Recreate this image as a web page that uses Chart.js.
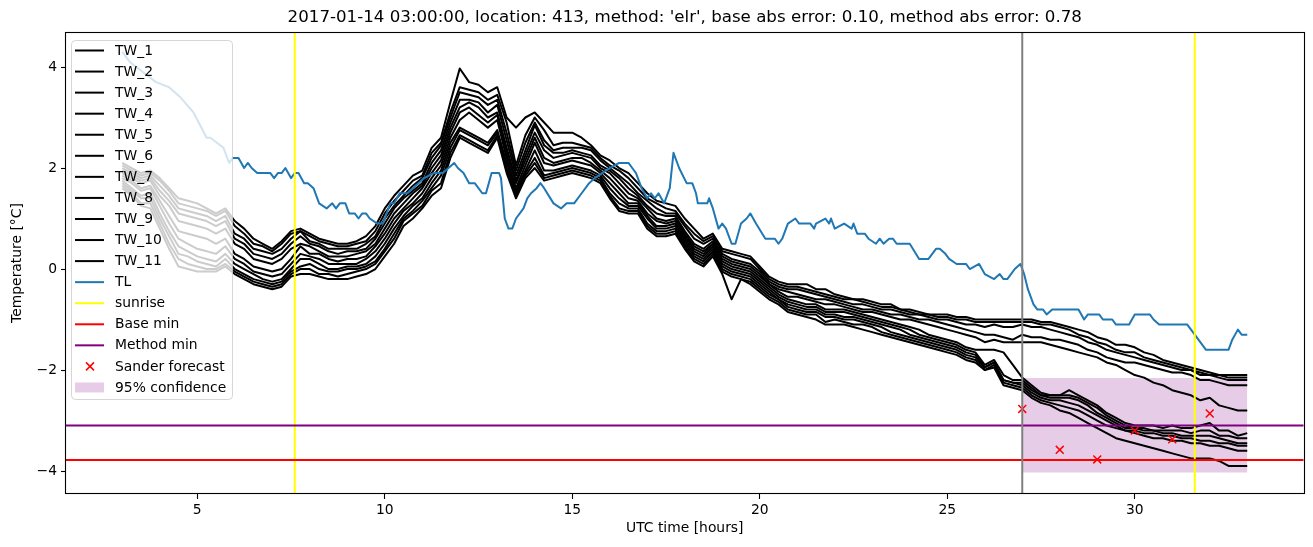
<!DOCTYPE html>
<html>
<head>
<meta charset="utf-8">
<script src="https://cdn.jsdelivr.net/npm/chart.js"></script>
<style>
html, body { margin: 0; padding: 0; background: #ffffff; }
canvas { display: block; }
</style>
</head>
<body>
<canvas id="chart" width="1313" height="547"></canvas>
<script>
// ---------------- DATA ----------------
const chartTitle = "2017-01-14 03:00:00, location: 413, method: 'elr', base abs error: 0.10, method abs error: 0.78";
const xAxisTitle = "UTC time [hours]";
const yAxisTitle = "Temperature [°C]";

const xTicks = [5, 10, 15, 20, 25, 30];
const yTicks = [-4, -2, 0, 2, 4];
const xMin = 1.5, xMax = 34.5;
const yMin = -4.455, yMax = 4.693;

const twLabels = ["TW_1", "TW_2", "TW_3", "TW_4", "TW_5", "TW_6", "TW_7", "TW_8", "TW_9", "TW_10", "TW_11"];

const twHours = [
  3, 3.25, 3.5, 3.75, 4, 4.25, 4.5, 4.75, 5, 5.25, 5.5, 5.75,
  6, 6.25, 6.5, 6.75, 7, 7.25, 7.5, 7.75, 8, 8.25, 8.5, 8.75,
  9, 9.25, 9.5, 9.75, 10, 10.25, 10.5, 10.75, 11, 11.25, 11.5, 11.75,
  12, 12.25, 12.5, 12.75, 13, 13.25, 13.5, 13.75, 14, 14.25, 14.5, 14.75,
  15, 15.25, 15.5, 15.75, 16, 16.25, 16.5, 16.75, 17, 17.25, 17.5, 17.75,
  18, 18.25, 18.5, 18.75, 19, 19.25, 19.5, 19.75, 20, 20.25, 20.5, 20.75,
  21, 21.25, 21.5, 21.75, 22, 22.25, 22.5, 22.75, 23, 23.25, 23.5, 23.75,
  24, 24.25, 24.5, 24.75, 25, 25.25, 25.5, 25.75, 26, 26.25, 26.5, 26.75,
  27, 27.25, 27.5, 27.75, 28, 28.25, 28.5, 28.75, 29, 29.25, 29.5, 29.75,
  30, 30.25, 30.5, 30.75, 31, 31.25, 31.5, 31.75, 32, 32.25, 32.5, 32.75,
  33
];

const tw1 = [
  2.1, 2.0, 1.9, 1.95,  1.8, 1.6, 1.4, 1.35,  1.3, 1.2, 1.1, 1.2,
  0.95, 0.8, 0.6, 0.5,  0.4, 0.55, 0.75, 0.8,  0.7, 0.6, 0.55, 0.5,
  0.5, 0.55, 0.65, 0.85,  1.2, 1.45, 1.65, 1.85,  1.95, 2.4, 2.6, 3.3,
  3.97, 3.7, 3.65, 3.5,  3.6, 3.0, 2.8, 3.0,  3.1, 2.9, 2.7, 2.7,
  2.7, 2.6, 2.45, 2.25,  2.15, 2.0, 1.9, 1.7,  1.5, 1.35, 1.3, 1.25,
  1.0, 0.8, 0.6, 0.7,  0.4, 0.35, 0.3, 0.25,  0.05, -0.15, -0.25, -0.3,
  -0.3, -0.3, -0.4, -0.4,  -0.5, -0.55, -0.6, -0.6,  -0.65, -0.7, -0.7, -0.8,
  -0.8, -0.85, -0.9, -0.9,  -0.9, -0.95, -0.95, -1.0,  -1.0, -1.0, -1.0, -1.0,
  -1.0, -1.0, -1.05, -1.05,  -1.1, -1.15, -1.2, -1.25,  -1.35, -1.4, -1.5, -1.5,
  -1.55, -1.65, -1.7, -1.8,  -1.85, -1.9, -1.95, -2.0,  -2.05, -2.1, -2.1, -2.1,
  -2.1
];
const tw2 = [
  2.05, 1.95, 1.85, 1.9,  1.75, 1.55, 1.3, 1.25,  1.2, 1.15, 1.05, 1.15,
  0.85, 0.7, 0.5, 0.45,  0.35, 0.5, 0.7, 0.75,  0.65, 0.55, 0.5, 0.45,
  0.45, 0.5, 0.55, 0.75,  1.1, 1.35, 1.55, 1.75,  1.85, 2.3, 2.5, 3.1,
  3.6, 3.55, 3.5, 3.35,  3.45, 2.9, 2.05, 2.65,  3.0, 2.75, 2.45, 2.5,
  2.5, 2.45, 2.4, 2.2,  2.05, 1.95, 1.8, 1.6,  1.4, 1.3, 1.2, 1.15,
  0.9, 0.7, 0.55, 0.65,  0.35, 0.3, 0.25, 0.2,  0.0, -0.2, -0.3, -0.35,
  -0.35, -0.4, -0.45, -0.5,  -0.55, -0.6, -0.6, -0.65,  -0.7, -0.75, -0.75, -0.8,
  -0.85, -0.9, -0.9, -0.95,  -0.95, -1.0, -1.0, -1.05,  -1.05, -1.05, -1.05, -1.05,
  -1.05, -1.05, -1.1, -1.1,  -1.15, -1.2, -1.3, -1.35,  -1.45, -1.5, -1.6, -1.65,
  -1.65, -1.75, -1.8, -1.85,  -1.9, -1.95, -2.0, -2.05,  -2.1, -2.1, -2.15, -2.15,
  -2.15
];
const tw3 = [
  2.0, 1.9, 1.8, 1.85,  1.65, 1.45, 1.2, 1.15,  1.1, 1.05, 0.95, 1.05,
  0.7, 0.6, 0.4, 0.35,  0.3, 0.4, 0.6, 0.75,  0.55, 0.5, 0.4, 0.4,
  0.4, 0.4, 0.5, 0.65,  1.0, 1.25, 1.45, 1.65,  1.8, 2.2, 2.45, 3.0,
  3.5, 3.45, 3.4, 3.25,  3.35, 2.7, 1.95, 2.5,  2.9, 2.55, 2.35, 2.4,
  2.4, 2.4, 2.35, 2.15,  2.0, 1.85, 1.7, 1.5,  1.35, 1.2, 1.1, 1.1,
  0.85, 0.6, 0.5, 0.6,  0.3, 0.2, 0.15, 0.1,  -0.05, -0.25, -0.35, -0.4,
  -0.4, -0.45, -0.5, -0.55,  -0.6, -0.65, -0.7, -0.7,  -0.75, -0.8, -0.8, -0.85,
  -0.9, -0.9, -0.95, -1.0,  -1.0, -1.05, -1.1, -1.1,  -1.15, -1.1, -1.15, -1.15,
  -1.1, -1.15, -1.15, -1.2,  -1.25, -1.3, -1.35, -1.45,  -1.5, -1.6, -1.65, -1.7,
  -1.75, -1.8, -1.85, -1.9,  -1.95, -2.0, -2.0, -2.1,  -2.1, -2.15, -2.2, -2.2,
  -2.2
];
const tw4 = [
  1.95, 1.85, 1.75, 1.8,  1.55, 1.35, 1.1, 1.05,  1.0, 0.95, 0.85, 0.95,
  0.6, 0.5, 0.3, 0.25,  0.2, 0.3, 0.5, 0.65,  0.5, 0.45, 0.35, 0.3,
  0.35, 0.35, 0.4, 0.6,  0.9, 1.2, 1.4, 1.55,  1.7, 2.1, 2.35, 2.9,
  3.35, 3.35, 3.3, 3.1,  3.25, 2.55, 1.85, 2.35,  2.85, 2.45, 2.3, 2.3,
  2.35, 2.3, 2.25, 2.05,  1.95, 1.8, 1.6, 1.45,  1.25, 1.1, 1.05, 1.05,
  0.75, 0.5, 0.4, 0.55,  0.25, 0.15, 0.1, 0.05,  -0.1, -0.3, -0.4, -0.45,
  -0.5, -0.55, -0.6, -0.6,  -0.65, -0.7, -0.75, -0.8,  -0.8, -0.85, -0.9, -0.9,
  -0.95, -1.0, -1.0, -1.05,  -1.1, -1.15, -1.2, -1.25,  -1.3, -1.3, -1.35, -1.4,
  -1.3, -1.35, -1.35, -1.4,  -1.4, -1.45, -1.5, -1.6,  -1.65, -1.75, -1.8, -1.85,
  -1.85, -1.9, -1.95, -2.0,  -2.05, -2.05, -2.1, -2.2,  -2.2, -2.25, -2.3, -2.3,
  -2.3
];
const tw5 = [
  1.9, 1.8, 1.7, 1.75,  1.45, 1.25, 0.95, 0.9,  0.85, 0.8, 0.7, 0.8,
  0.5, 0.4, 0.2, 0.15,  0.1, 0.2, 0.4, 0.5,  0.45, 0.35, 0.25, 0.25,
  0.25, 0.3, 0.35, 0.5,  0.8, 1.1, 1.3, 1.5,  1.65, 2.0, 2.25, 2.8,
  3.2, 3.3, 3.2, 3.0,  3.1, 2.4, 1.75, 2.25,  2.7, 2.35, 2.2, 2.25,
  2.3, 2.25, 2.2, 2.0,  1.9, 1.7, 1.5, 1.4,  1.2, 1.0, 0.95, 1.0,
  0.7, 0.45, 0.35, 0.5,  0.2, 0.1, 0.05, 0.0,  -0.15, -0.3, -0.45, -0.55,
  -0.55, -0.6, -0.65, -0.7,  -0.7, -0.75, -0.8, -0.85,  -0.85, -0.9, -0.95, -1.0,
  -1.0, -1.05, -1.1, -1.15,  -1.2, -1.25, -1.3, -1.35,  -1.45, -1.4, -1.45, -1.45,
  -1.45, -1.45, -1.45, -1.5,  -1.55, -1.6, -1.65, -1.7,  -1.75, -1.85, -1.9, -2.0,
  -2.1, -2.15, -2.25, -2.3,  -2.4, -2.45, -2.5, -2.6,  -2.55, -2.7, -2.75, -2.8,
  -2.8
];
const tw6 = [
  1.85, 1.75, 1.6, 1.65,  1.35, 1.05, 0.75, 0.7,  0.65, 0.6, 0.5, 0.6,
  0.3, 0.2, 0.05, 0.0,  -0.05, 0.0, 0.2, 0.45,  0.3, 0.3, 0.2, 0.15,
  0.2, 0.2, 0.25, 0.45,  0.7, 1.0, 1.2, 1.4,  1.6, 1.9, 2.15, 2.7,
  3.1, 3.2, 3.05, 2.9,  3.05, 2.3, 1.7, 2.15,  2.6, 2.2, 2.1, 2.15,
  2.2, 2.2, 2.1, 1.95,  1.8, 1.6, 1.4, 1.35,  1.1, 0.95, 0.9, 0.95,
  0.65, 0.4, 0.3, 0.5,  0.15, 0.05, 0.0, -0.05,  -0.2, -0.35, -0.5, -0.6,
  -0.65, -0.7, -0.7, -0.8,  -0.8, -0.8, -0.85, -0.9,  -0.95, -1.0, -1.05, -1.1,
  -1.15, -1.2, -1.3, -1.35,  -1.4, -1.45, -1.55, -1.6,  -1.6, -1.6, -1.65, -1.9,
  -2.15, -2.3, -2.45, -2.5,  -2.5, -2.4, -2.5, -2.6,  -2.7, -2.85, -2.95, -3.05,
  -3.1, -3.1, -3.1, -3.15,  -3.1, -3.15, -3.15, -3.1,  -3.05, -3.2, -3.2, -3.3,
  -3.25
];
const tw7 = [
  1.8, 1.7, 1.55, 1.6,  1.25, 0.9, 0.6, 0.5,  0.4, 0.35, 0.3, 0.45,
  0.2, 0.1, -0.05, -0.1,  -0.15, -0.1, 0.1, 0.3,  0.25, 0.2, 0.1, 0.1,
  0.1, 0.1, 0.2, 0.35,  0.6, 0.9, 1.15, 1.3,  1.5, 1.8, 2.05, 2.6,
  2.95, 3.1, 2.95, 2.8,  2.95, 2.2, 1.6, 2.05,  2.5, 2.1, 2.05, 2.1,
  2.15, 2.1, 2.05, 1.9,  1.7, 1.5, 1.3, 1.3,  1.05, 0.85, 0.85, 0.9,
  0.6, 0.35, 0.25, 0.45,  0.1, 0.0, -0.05, -0.1,  -0.25, -0.4, -0.55, -0.65,
  -0.7, -0.75, -0.75, -0.85,  -0.85, -0.85, -0.9, -0.95,  -1.0, -1.05, -1.1, -1.15,
  -1.2, -1.3, -1.35, -1.4,  -1.45, -1.5, -1.6, -1.65,  -1.9, -1.8, -2.1, -2.2,
  -2.2, -2.35, -2.5, -2.5,  -2.5, -2.5, -2.55, -2.65,  -2.75, -2.9, -3.0, -3.1,
  -3.15, -3.15, -3.2, -3.2,  -3.2, -3.2, -3.25, -3.2,  -3.2, -3.3, -3.3, -3.35,
  -3.35
];
const tw8 = [
  1.75, 1.6, 1.45, 1.5,  1.1, 0.75, 0.45, 0.35,  0.25, 0.2, 0.15, 0.3,
  0.1, 0.0, -0.1, -0.2,  -0.25, -0.2, 0.0, 0.2,  0.2, 0.1, 0.0, 0.0,
  0.05, 0.05, 0.1, 0.25,  0.5, 0.8, 1.05, 1.25,  1.4, 1.7, 1.95, 2.5,
  2.8, 2.7, 2.6, 2.5,  2.75, 2.1, 1.55, 1.95,  2.35, 1.95, 1.95, 2.0,
  2.05, 2.0, 1.95, 1.85,  1.6, 1.4, 1.25, 1.25,  1.0, 0.8, 0.8, 0.85,
  0.55, 0.3, 0.2, 0.4,  0.05, -0.05, -0.1, -0.15,  -0.3, -0.45, -0.6, -0.7,
  -0.75, -0.8, -0.8, -0.9,  -0.9, -0.95, -0.95, -1.0,  -1.05, -1.1, -1.15, -1.2,
  -1.3, -1.35, -1.4, -1.45,  -1.5, -1.55, -1.65, -1.7,  -1.95, -1.85, -2.2, -2.25,
  -2.25, -2.4, -2.5, -2.55,  -2.55, -2.55, -2.6, -2.7,  -2.85, -2.95, -3.05, -3.15,
  -3.15, -3.2, -3.2, -3.25,  -3.25, -3.3, -3.3, -3.3,  -3.3, -3.35, -3.4, -3.45,
  -3.45
];
const tw9 = [
  1.7, 1.55, 1.4, 1.4,  1.0, 0.65, 0.3, 0.25,  0.15, 0.1, 0.05, 0.2,
  0.0, -0.1, -0.2, -0.25,  -0.3, -0.25, -0.05, 0.05,  0.1, 0.0, -0.05, -0.05,
  0.0, 0.0, 0.05, 0.15,  0.4, 0.7, 1.0, 1.15,  1.35, 1.6, 1.85, 2.4,
  2.75, 2.65, 2.55, 2.45,  2.7, 2.0, 1.5, 1.9,  2.2, 1.85, 1.9, 1.95,
  2.0, 1.95, 1.9, 1.8,  1.5, 1.3, 1.2, 1.2,  0.9, 0.75, 0.75, 0.8,
  0.5, 0.25, 0.15, 0.35,  0.0, -0.1, -0.15, -0.2,  -0.35, -0.5, -0.6, -0.75,
  -0.8, -0.85, -0.85, -0.95,  -0.95, -1.0, -1.0, -1.05,  -1.1, -1.15, -1.25, -1.3,
  -1.35, -1.4, -1.45, -1.5,  -1.55, -1.6, -1.7, -1.75,  -1.95, -1.85, -2.2, -2.25,
  -2.3, -2.45, -2.55, -2.6,  -2.6, -2.65, -2.7, -2.8,  -2.9, -3.0, -3.1, -3.2,
  -3.2, -3.25, -3.25, -3.3,  -3.3, -3.35, -3.35, -3.4,  -3.4, -3.45, -3.45, -3.5,
  -3.5
];
const tw10 = [
  1.65, 1.5, 1.3, 1.3,  0.9, 0.5, 0.2, 0.1,  0.05, 0.0, 0.0, 0.1,
  -0.05, -0.15, -0.25, -0.3,  -0.35, -0.3, -0.1, 0.0,  0.0, -0.1, -0.1, -0.15,
  -0.1, -0.05, 0.0, 0.1,  0.35, 0.6, 0.95, 1.1,  1.25, 1.55, 1.7, 2.3,
  2.65, 2.55, 2.45, 2.35,  2.65, 1.95, 1.45, 1.85,  2.1, 1.8, 1.85, 1.9,
  1.95, 1.9, 1.85, 1.75,  1.45, 1.2, 1.15, 1.15,  0.85, 0.7, 0.7, 0.75,
  0.45, 0.2, 0.1, 0.3,  -0.05, -0.15, -0.2, -0.25,  -0.4, -0.55, -0.65, -0.8,
  -0.85, -0.9, -0.9, -1.05,  -1.0, -1.05, -1.1, -1.1,  -1.15, -1.25, -1.3, -1.35,
  -1.4, -1.45, -1.5, -1.55,  -1.6, -1.65, -1.75, -1.8,  -2.0, -1.9, -2.25, -2.3,
  -2.35, -2.5, -2.6, -2.65,  -2.7, -2.75, -2.8, -2.9,  -3.0, -3.1, -3.15, -3.2,
  -3.25, -3.3, -3.35, -3.35,  -3.4, -3.4, -3.45, -3.45,  -3.5, -3.5, -3.55, -3.6,
  -3.6
];
const tw11 = [
  1.6, 1.45, 1.25, 1.2,  0.8, 0.4, 0.05, 0.0,  -0.05, -0.05, -0.05, 0.05,
  -0.1, -0.2, -0.3, -0.35,  -0.4, -0.35, -0.15, -0.1,  -0.1, -0.15, -0.2, -0.2,
  -0.2, -0.15, -0.1, 0.0,  0.25, 0.5, 0.85, 1.0,  1.2, 1.45, 1.6, 2.2,
  2.6, 2.5, 2.4, 2.3,  2.6, 1.9, 1.4, 1.8,  2.0, 1.75, 1.8, 1.85,
  1.9, 1.85, 1.8, 1.7,  1.4, 1.15, 1.1, 1.1,  0.8, 0.65, 0.65, 0.7,
  0.4, 0.15, 0.05, 0.25,  -0.1, -0.6, -0.2, -0.3,  -0.45, -0.6, -0.7, -0.85,
  -0.9, -0.95, -1.0, -1.1,  -1.1, -1.1, -1.15, -1.2,  -1.25, -1.3, -1.35, -1.4,
  -1.45, -1.5, -1.55, -1.6,  -1.65, -1.7, -1.8, -1.85,  -2.0, -1.95, -2.3, -2.35,
  -2.4, -2.55, -2.65, -2.7,  -2.8, -2.85, -2.95, -3.05,  -3.15, -3.25, -3.35, -3.4,
  -3.45, -3.5, -3.55, -3.6,  -3.65, -3.7, -3.75, -3.75,  -3.75, -3.8, -3.9, -3.9,
  -3.9
];

const tlHours = [
  3.0, 3.2, 3.55, 3.9, 4.25, 4.55, 4.9, 5.25, 5.35, 5.7,
  5.85, 5.95, 6.1, 6.25, 6.35, 6.45, 6.6, 6.95, 7.05, 7.15,
  7.25, 7.35, 7.5, 7.6, 7.7, 7.85, 7.95, 8.1, 8.25, 8.45,
  8.6, 8.7, 8.8, 8.95, 9.05, 9.2, 9.3, 9.4, 9.5, 9.6,
  9.8, 9.95, 10.0, 10.15, 10.25, 10.4, 10.6, 10.75, 10.9, 11.05,
  11.3, 11.55, 11.85, 11.95, 12.1, 12.25, 12.4, 12.6, 12.7, 12.85,
  13.05, 13.1, 13.2, 13.3, 13.4, 13.5, 13.7, 13.8, 13.9, 14.05,
  14.15, 14.25, 14.5, 14.7, 14.85, 15.05, 15.25, 15.45, 15.6, 15.8,
  16.0, 16.25, 16.5, 16.6, 16.7, 16.85, 17.0, 17.1, 17.2, 17.3,
  17.45, 17.6, 17.7, 17.85, 18.05, 18.2, 18.3, 18.35, 18.6, 18.65,
  18.75, 18.9, 19.0, 19.1, 19.25, 19.35, 19.5, 19.65, 19.75, 19.9,
  20.15, 20.4, 20.5, 20.6, 20.75, 20.95, 21.05, 21.35, 21.45, 21.5,
  21.75, 21.85, 21.9, 22.0, 22.25, 22.45, 22.5, 22.6, 22.8, 22.9,
  23.1, 23.2, 23.3, 23.45, 23.55, 23.65, 24.0, 24.25, 24.5, 24.6,
  24.7, 24.8, 24.95, 25.05, 25.25, 25.5, 25.6, 25.85, 26.0, 26.25,
  26.4, 26.5, 26.6, 26.7, 26.8, 26.95, 27.05, 27.15, 27.3, 27.4,
  27.55, 27.65, 27.8, 28.5, 28.65, 28.75, 29.05, 29.15, 29.4, 29.5,
  29.85, 30.0, 30.4, 30.5, 30.65, 31.4, 31.6, 31.9, 32.5, 32.6,
  32.75, 32.85, 33.0
];
const tlValues = [
  4.3, 4.1, 3.9, 3.7, 3.6, 3.4, 3.1, 2.6, 2.6, 2.4,
  2.1, 2.2, 2.2, 2.0, 2.1, 2.0, 1.9, 1.9, 1.8, 1.9,
  1.9, 2.0, 1.8, 1.9, 1.9, 1.7, 1.7, 1.6, 1.3, 1.2,
  1.3, 1.2, 1.3, 1.3, 1.1, 1.1, 1.0, 1.1, 1.1, 1.0,
  0.9, 0.9, 1.0, 1.3, 1.3, 1.5, 1.5, 1.6, 1.7, 1.8,
  1.9, 1.9, 2.1, 2.0, 1.9, 1.7, 1.7, 1.5, 1.5, 1.9,
  1.9, 1.8, 1.0, 0.8, 0.8, 1.0, 1.2, 1.4, 1.5, 1.6,
  1.7, 1.6, 1.3, 1.2, 1.3, 1.3, 1.5, 1.7, 1.8, 1.9,
  2.0, 2.1, 2.1, 2.0, 1.9, 1.6, 1.4, 1.5, 1.4, 1.5,
  1.3, 1.6, 2.3, 2.0, 1.7, 1.7, 1.5, 1.3, 1.3, 1.4,
  1.2, 0.8, 0.9, 0.8, 0.5, 0.5, 0.9, 1.0, 1.1, 0.9,
  0.6, 0.6, 0.5, 0.6, 0.9, 1.0, 0.9, 0.9, 0.8, 0.9,
  1.0, 0.9, 1.0, 0.8, 0.9, 0.8, 0.9, 0.7, 0.7, 0.6,
  0.5, 0.6, 0.5, 0.6, 0.6, 0.5, 0.5, 0.2, 0.2, 0.3,
  0.4, 0.4, 0.3, 0.2, 0.1, 0.1, 0.0, 0.1, -0.1, -0.2,
  -0.1, -0.2, -0.2, -0.1, 0.0, 0.1, -0.1, -0.4, -0.7, -0.8,
  -0.8, -0.9, -0.8, -0.8, -1.0, -0.9, -0.9, -1.0, -1.0, -1.1,
  -1.1, -0.9, -0.9, -1.0, -1.1, -1.1, -1.3, -1.6, -1.6, -1.4,
  -1.2, -1.3, -1.3
];

const sunriseHours = [7.6, 31.6];
const forecastStartHour = 27;
const baseMin = -3.78;
const methodMin = -3.10;

const sanderHours = [27, 28, 29, 30, 31, 32];
const sanderValues = [-2.77, -3.58, -3.77, -3.20, -3.37, -2.86];

const confHours = [27, 33];
const confUpper = [-2.16, -2.16];
const confLower = [-4.03, -4.03];

// span used for full-height / full-width reference lines (clipped to the axes)
const vLineSpan = [-20, 20];
const hLineSpan = [-50, 100];

// ---------------- CHART ----------------
Chart.defaults.font.family = "'DejaVu Sans', sans-serif";
Chart.defaults.color = '#000000';

const FS = 13.89;
const twSeries = [tw1, tw2, tw3, tw4, tw5, tw6, tw7, tw8, tw9, tw10, tw11];

const lineBase = {
  pointRadius: 0, pointHoverRadius: 0, fill: false, tension: 0,
  borderWidth: 2, borderJoinStyle: 'round', borderCapStyle: 'butt'
};

const datasets = [];
twSeries.forEach((vals, i) => {
  datasets.push(Object.assign({}, lineBase, {
    label: twLabels[i], legendKind: 'line',
    data: twHours.map((h, j) => ({ x: h, y: vals[j] })),
    borderColor: '#000000', backgroundColor: '#000000',
    order: 30 - i
  }));
});
datasets.push(Object.assign({}, lineBase, {
  label: 'TL', legendKind: 'line',
  data: tlHours.map((h, j) => ({ x: h, y: tlValues[j] })),
  borderColor: '#1f77b4', backgroundColor: '#1f77b4', order: 6
}));
sunriseHours.forEach((h, k) => {
  datasets.push(Object.assign({}, lineBase, {
    label: k === 0 ? 'sunrise' : '', legendKind: 'line',
    data: vLineSpan.map(v => ({ x: h, y: v })),
    borderColor: '#ffff00', backgroundColor: '#ffff00', order: 5
  }));
});
datasets.push(Object.assign({}, lineBase, {
  label: 'Base min', legendKind: 'line',
  data: hLineSpan.map(h => ({ x: h, y: baseMin })),
  borderColor: '#ff0000', backgroundColor: '#ff0000', order: 4
}));
datasets.push(Object.assign({}, lineBase, {
  label: 'Method min', legendKind: 'line',
  data: hLineSpan.map(h => ({ x: h, y: methodMin })),
  borderColor: '#800080', backgroundColor: '#800080', order: 3
}));
datasets.push({
  label: 'Sander forecast', legendKind: 'cross',
  data: sanderHours.map((h, j) => ({ x: h, y: sanderValues[j] })),
  showLine: false, pointStyle: 'crossRot', pointRadius: 5.6, pointHoverRadius: 5.6,
  pointBorderWidth: 1.5, borderColor: '#ff0000', backgroundColor: '#ff0000',
  pointBorderColor: '#ff0000', pointBackgroundColor: '#ff0000', order: 2
});
datasets.push({
  label: '', data: confHours.map((h, j) => ({ x: h, y: confLower[j] })),
  borderWidth: 0, borderColor: 'rgba(0,0,0,0)', backgroundColor: 'rgba(0,0,0,0)',
  pointRadius: 0, pointHoverRadius: 0, fill: false, tension: 0, order: 41
});
const confLowerIndex = datasets.length - 1;
datasets.push({
  label: '95% confidence', legendKind: 'patch',
  data: confHours.map((h, j) => ({ x: h, y: confUpper[j] })),
  borderWidth: 0, borderColor: 'rgba(0,0,0,0)', backgroundColor: 'rgba(128,0,128,0.2)',
  pointRadius: 0, pointHoverRadius: 0, fill: confLowerIndex, tension: 0, order: 40
});
datasets.push(Object.assign({}, lineBase, {
  label: '', data: vLineSpan.map(v => ({ x: forecastStartHour, y: v })),
  borderColor: '#808080', backgroundColor: '#808080', order: 1
}));

// matplotlib-style legend box drawn over the data
const mplLegend = {
  id: 'mplLegend',
  afterDatasetsDraw(chart) {
    const ctx = chart.ctx;
    const items = chart.data.datasets.filter(d => d.label);
    const x0 = 71.5, y0 = 40.5, w = 161, h = 359, r = 4;
    ctx.save();
    ctx.beginPath();
    ctx.moveTo(x0 + r, y0);
    ctx.lineTo(x0 + w - r, y0);
    ctx.arcTo(x0 + w, y0, x0 + w, y0 + r, r);
    ctx.lineTo(x0 + w, y0 + h - r);
    ctx.arcTo(x0 + w, y0 + h, x0 + w - r, y0 + h, r);
    ctx.lineTo(x0 + r, y0 + h);
    ctx.arcTo(x0, y0 + h, x0, y0 + h - r, r);
    ctx.lineTo(x0, y0 + r);
    ctx.arcTo(x0, y0, x0 + r, y0, r);
    ctx.closePath();
    ctx.fillStyle = 'rgba(255,255,255,0.8)';
    ctx.fill();
    ctx.strokeStyle = 'rgba(204,204,204,0.8)';
    ctx.lineWidth = 1;
    ctx.stroke();

    items.forEach((d, i) => {
      const cy = 50.5 + i * 21.06;
      if (d.legendKind === 'line') {
        ctx.strokeStyle = d.borderColor;
        ctx.lineWidth = 2;
        ctx.beginPath();
        ctx.moveTo(75, cy);
        ctx.lineTo(104, cy);
        ctx.stroke();
      } else if (d.legendKind === 'cross') {
        ctx.strokeStyle = d.borderColor;
        ctx.lineWidth = 1.5;
        ctx.beginPath();
        ctx.moveTo(86, cy - 4); ctx.lineTo(94, cy + 4);
        ctx.moveTo(86, cy + 4); ctx.lineTo(94, cy - 4);
        ctx.stroke();
      } else if (d.legendKind === 'patch') {
        ctx.fillStyle = d.backgroundColor;
        ctx.fillRect(75, cy - 5, 29, 10);
      }
      ctx.fillStyle = '#000000';
      ctx.font = FS + "px 'DejaVu Sans', sans-serif";
      ctx.textAlign = 'left';
      ctx.textBaseline = 'middle';
      ctx.fillText(d.label, 115, cy + 0.5);
    });
    ctx.restore();
  }
};

// axes frame on all four sides
const frame = {
  id: 'frame',
  afterDraw(chart) {
    const { left, top, right, bottom } = chart.chartArea;
    const ctx = chart.ctx;
    ctx.save();
    ctx.strokeStyle = '#000000';
    ctx.lineWidth = 1.1;
    ctx.strokeRect(Math.round(left) - 0.5, Math.round(top) + 0.5,
                   Math.round(right) - Math.round(left) + 1, Math.round(bottom) - Math.round(top) - 1);
    ctx.restore();
  }
};

const tickGrid = { display: true, drawOnChartArea: false, drawTicks: true, tickLength: 5, tickColor: '#000000', tickWidth: 1.1 };

new Chart(document.getElementById('chart'), {
  type: 'line',
  data: { datasets },
  options: {
    responsive: false,
    animation: false,
    devicePixelRatio: 1,
    events: [],
    layout: { padding: { left: 0, right: 9.5, top: 0, bottom: 0 } },
    plugins: {
      legend: { display: false },
      tooltip: { enabled: false },
      title: {
        display: true, text: chartTitle, fullSize: false, color: '#000000',
        font: { size: 16.67, weight: 'normal' }, padding: { top: 8, bottom: 4 }
      }
    },
    scales: {
      x: {
        type: 'linear', min: xMin, max: xMax,
        afterBuildTicks: s => { s.ticks = xTicks.map(v => ({ value: v })); },
        afterFit: s => { s.height = 53; },
        grid: tickGrid,
        border: { display: false },
        ticks: { color: '#000000', font: { size: FS }, padding: 3, maxRotation: 0, autoSkip: false },
        title: { display: true, text: xAxisTitle, color: '#000000', font: { size: FS }, padding: { top: 4, bottom: 10 } }
      },
      y: {
        type: 'linear', min: yMin, max: yMax,
        afterBuildTicks: s => { s.ticks = yTicks.map(v => ({ value: v })); },
        afterFit: s => { s.width = 66; },
        grid: tickGrid,
        border: { display: false },
        ticks: {
          color: '#000000', font: { size: FS }, padding: 4,
          callback: v => (v < 0 ? '\u2212' + Math.abs(v) : String(v))
        },
        title: { display: true, text: yAxisTitle, color: '#000000', font: { size: FS }, padding: { top: 9, bottom: 0 } }
      }
    }
  },
  plugins: [mplLegend, frame]
});
</script>
</body>
</html>
